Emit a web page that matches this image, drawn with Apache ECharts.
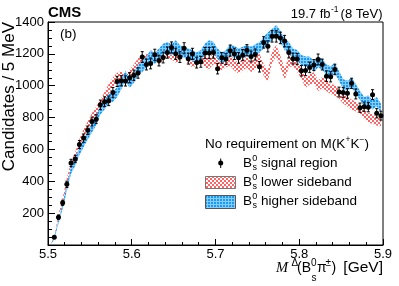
<!DOCTYPE html>
<html><head><meta charset="utf-8">
<script src="https://cdn.jsdelivr.net/npm/echarts@6/dist/echarts.min.js"></script>
<style>html,body{margin:0;padding:0;background:#fff}#c{width:399px;height:286px}</style>
</head><body><div id="c"></div>
<script>
// Bin layout: 5 MeV bins from 5.5 to 5.9 GeV
const binStart = 5.5, binWidth = 0.005;
const xTicks = ['5.5','5.6','5.7','5.8','5.9'];
const yTicks = ['200','400','600','800','1000','1200','1400'];

// Signal region (points)
const signal = [null,48,175,265,381,515,540,631,671,720,775,790,880,900,905,958,1027,1031,1030,1050,
1065,1080,1180,1133,1140,1194,1158,1177,1208,1240,1200,1180,1235,1170,1200,1145,1150,1205,1205,1208,
1107,1175,1167,1220,1200,1175,1192,1223,1183,1196,1119,1272,1247,1310,1310,1300,1280,1209,1170,1168,
1094,1096,1115,1130,1165,1133,1060,1056,1102,960,958,952,1015,948,862,868,865,944,827,812];
const signalErr = [0,7,13,16,20,23,23,25,26,27,28,28,30,30,30,31,32,32,32,32,
33,33,34,34,34,35,34,34,35,35,35,34,35,34,35,34,34,35,35,35,
33,34,34,35,35,34,35,35,34,35,33,36,35,36,36,36,36,35,34,34,
33,33,33,34,34,34,33,32,33,31,31,31,32,31,29,29,29,31,29,28];
// Lower sideband (red band centre)
const lowerSB = [0,50,180,280,400,500,560,640,700,750,800,840,880,930,980,1020,1050,1060,1040,1070,
1100,1140,1150,1170,1160,1180,1170,1190,1210,1200,1180,1190,1220,1170,1150,1160,1180,1150,1140,1170,
1150,1130,1150,1160,1130,1110,1130,1150,1120,1140,1170,1100,1060,1180,1220,1150,1070,1150,1160,1120,
1080,1020,1040,1050,1000,1020,1000,980,970,950,920,900,880,870,850,820,800,790,780,770];
// Higher sideband (blue band centre)
const higherSB = [0,40,150,245,360,470,520,590,640,690,735,780,850,880,920,930,960,1010,1060,1020,
1050,1100,1120,1150,1190,1170,1200,1230,1240,1225,1250,1220,1210,1200,1190,1175,1190,1230,1250,1240,
1200,1175,1190,1225,1215,1200,1210,1220,1210,1225,1240,1270,1300,1320,1345,1310,1260,1240,1200,1190,
1160,1150,1150,1120,1150,1135,1100,1090,1110,1060,1010,1000,1020,980,940,900,910,880,900,860];
const bandErr = signalErr;

const binCenters = signal.map((_, i) => +(binStart + binWidth * (i + 0.5)).toFixed(4));

function makePattern(kind){
  const c = document.createElement('canvas');
  if(kind==='red'){
    c.width=4;c.height=4;const g=c.getContext('2d');
    g.fillStyle='#ffffff';g.fillRect(0,0,4,4);
    g.fillStyle='#ff6464';g.fillRect(0,0,2,2);g.fillRect(2,2,2,2);
  } else {
    c.width=3;c.height=3;const g=c.getContext('2d');
    g.fillStyle='#1a9af2';g.fillRect(0,0,3,3);
    g.fillStyle='#86cdfb';g.fillRect(0,0,3,1);g.fillRect(0,0,1,3);
  }
  return c;
}
const redPat = {image: makePattern('red'), repeat: 'repeat'};
const bluePat = {image: makePattern('blue'), repeat: 'repeat'};

function bandSeries(vals, pat){
  return {
    type:'custom', data:[[binCenters[0], 0]], silent:true, clip:true,
    renderItem:function(params, api){
      const up=[], lo=[];
      for(let i=0;i<vals.length;i++){
        up.push(api.coord([binCenters[i], vals[i]+bandErr[i]]));
        lo.push(api.coord([binCenters[i], Math.max(0, vals[i]-bandErr[i])]));
      }
      const pts = up.concat(lo.reverse());
      return {type:'polygon', shape:{points:pts}, style:{fill:pat, stroke:null}};
    }
  };
}

const pointData = [];
signal.forEach((v,i)=>{ if(v!==null) pointData.push([binCenters[i], v, signalErr[i]]); });

const chart = echarts.init(document.getElementById('c'), null, {renderer:'canvas'});
const F = 'Liberation Sans, Arial, Helvetica, sans-serif';
const gTexts = [];
function T(x,y,text,size,opts){
  opts = opts||{};
  const el = {type:'text', x:x, y:y, silent:true, z:100,
    style:{text:text, font: opts.font||(size+'px '+F), fill:'#000',
      textAlign:opts.align||'left', textVerticalAlign:'middle'}};
  if(opts.rotation) el.rotation = opts.rotation;
  gTexts.push(el);
}
// header
T(48,12.5,'CMS',15,{font:'bold 15px '+F});
T(382.5,14,'(8 TeV)',13,{align:'right'});
T(330.5,14,'19.7 fb',13,{align:'right'});
T(331,10,'-1',8.5);
T(60,34,'(b)',13.5);
// y axis title
T(9,22,'Candidates / 5 MeV',17,{align:'right', rotation:Math.PI/2});
// x axis title
T(276,268,'M',14,{font:'italic 14.5px Liberation Serif, Times New Roman, serif'});
T(291.5,263,'\u0394',10);
T(297,268,'(B',14);
T(311,263,'0',10);
T(311.5,278,'s',10);
T(317,268,'\u03c0',14);
T(325.5,263,'\u00b1',10);
T(331.5,268,')',14);
T(383,268,'[GeV]',15.5,{align:'right'});
// legend
T(205,144,'No requirement on M(K',13.5);
T(345.5,140,'+',8.5);
T(350.5,144,'K',13.5);
T(359.5,140,'\u2212',8.5);
T(364.5,144,')',13.5);
const rows=[[163,'signal region'],[182,'lower sideband'],[201,'higher sideband']];
rows.forEach(r=>{
  T(243,r[0],'B',13.5);
  T(252.3,r[0]-4.5,'0',9);
  T(252.6,r[0]+5,'s',9);
  T(261,r[0],r[1],13.5);
});
const legendShapes = [
  {type:'line', shape:{x1:220.7,y1:158.5,x2:220.7,y2:168}, style:{stroke:'#000',lineWidth:1}, z:100},
  {type:'circle', shape:{cx:220.7,cy:163,r:2.5}, style:{fill:'#000'}, z:100},
  {type:'rect', shape:{x:205.5,y:176.5,width:30,height:12}, style:{fill:redPat, stroke:'#777',lineWidth:1}, z:100},
  {type:'rect', shape:{x:205.5,y:195.5,width:30,height:13}, style:{fill:bluePat, stroke:'#555',lineWidth:1}, z:100}
];

chart.setOption({
  animation:false,
  backgroundColor:'#fff',
  grid:{left:48, right:16, top:22, bottom:41, show:true, borderColor:'#000', borderWidth:1,
    backgroundColor:'transparent', containLabel:false, outerBoundsMode:'none'},
  xAxis:{type:'value', min:5.5, max:5.9, interval:0.1,
    axisLine:{onZero:false, lineStyle:{color:'#000',width:1}},
    axisTick:{inside:true, length:6, lineStyle:{color:'#000'}},
    minorTick:{show:true, splitNumber:5, length:3, lineStyle:{color:'#000'}},
    splitLine:{show:false},
    axisLabel:{color:'#000', fontSize:13, fontFamily:F, margin:3,
      formatter:function(v){ const s=v.toFixed(1); return xTicks.indexOf(s)>=0?s:''; }}
  },
  yAxis:{type:'value', min:0, max:1400, interval:200,
    axisLine:{show:true, lineStyle:{color:'#000',width:1}},
    axisTick:{inside:true, length:7, lineStyle:{color:'#000'}},
    minorTick:{show:true, splitNumber:4, length:4, lineStyle:{color:'#000'}},
    splitLine:{show:false},
    axisLabel:{color:'#000', fontSize:13, fontFamily:F, margin:4,
      formatter:function(v){ const s=String(v); return yTicks.indexOf(s)>=0?s:''; }}
  },
  graphic: gTexts.concat(legendShapes),
  series:[
    bandSeries(lowerSB, redPat),
    bandSeries(higherSB, bluePat),
    {type:'custom', data:pointData, z:10,
      renderItem:function(params, api){
        const x=api.value(0), y=api.value(1), e=api.value(2);
        const p=api.coord([x,y]), pt=api.coord([x,y+e]), pb=api.coord([x,y-e]);
        return {type:'group', children:[
          {type:'line', shape:{x1:p[0],y1:pt[1],x2:p[0],y2:pb[1]}, style:{stroke:'#000',lineWidth:1}},
          {type:'line', shape:{x1:p[0]-1.5,y1:pt[1],x2:p[0]+1.5,y2:pt[1]}, style:{stroke:'#000',lineWidth:1}},
          {type:'line', shape:{x1:p[0]-1.5,y1:pb[1],x2:p[0]+1.5,y2:pb[1]}, style:{stroke:'#000',lineWidth:1}},
          {type:'circle', shape:{cx:p[0],cy:p[1],r:2.5}, style:{fill:'#000'}}
        ]};
      }
    }
  ]
});
</script></body></html>
